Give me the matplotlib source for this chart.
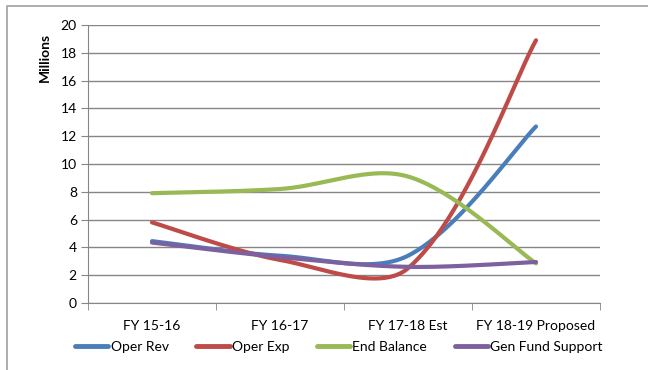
import matplotlib.pyplot as plt
import numpy as np
from matplotlib.lines import Line2D

plt.rcParams['font.family'] = ['Lato', 'DejaVu Sans']

categories = ["FY 15-16", "FY 16-17", "FY 17-18 Est", "FY 18-19 Proposed"]
oper_rev = [4.45, 3.4, 3.4, 12.7]
oper_exp = [5.8, 3.1, 2.5, 18.9]
end_balance = [7.9, 8.2, 9.1, 2.85]
gen_fund = [4.35, 3.3, 2.6, 2.95]

series = [
    ("Oper Rev", oper_rev, "#4A7EBB"),
    ("Oper Exp", oper_exp, "#BE4B48"),
    ("End Balance", end_balance, "#98B954"),
    ("Gen Fund Support", gen_fund, "#7D60A0"),
]

# pixel size of one category step and one y unit, used to shape the curves
XS, YS = 128.0, 13.9


def smooth(xs, ys, n=50):
    # bezier smoothing, handle lengths weighted by neighbouring segment lengths
    pts = np.column_stack([np.asarray(xs, float) * XS, np.asarray(ys, float) * YS])
    m = len(pts)
    out = []
    for i in range(m - 1):
        p1, p2 = pts[i], pts[i + 1]
        d12 = np.hypot(*(p2 - p1))
        if i == 0:
            h1 = (p2 - p1) / 6.0
        else:
            p0 = pts[i - 1]
            d01 = np.hypot(*(p1 - p0))
            h1 = (p2 - p0) / 6.0 * 2 * d12 / (d01 + d12)
        if i + 2 >= m:
            h2 = (p2 - p1) / 6.0
        else:
            p3 = pts[i + 2]
            d23 = np.hypot(*(p3 - p2))
            h2 = (p3 - p1) / 6.0 * 2 * d12 / (d12 + d23)
        c1, c2 = p1 + h1, p2 - h2
        t = np.linspace(0, 1, n)[:, None]
        seg = ((1 - t) ** 3) * p1 + 3 * ((1 - t) ** 2) * t * c1 \
            + 3 * (1 - t) * t ** 2 * c2 + t ** 3 * p2
        out.append(seg if i == 0 else seg[1:])
    seg = np.vstack(out)
    return seg[:, 0] / XS, seg[:, 1] / YS


fig = plt.figure(figsize=(6.48, 3.70), dpi=100)
ax = fig.add_axes([88 / 648, 1 - 303 / 370, 512 / 648, 278 / 370])

x = np.arange(len(categories))
for name, vals, color in series:
    sx, sy = smooth(x, vals)
    ax.plot(sx, sy, color=color, lw=3.0, solid_capstyle='round', label=name)

ax.set_xlim(-0.5, len(categories) - 0.5)
ax.set_ylim(0, 20)
ax.set_yticks(range(0, 21, 2))
ax.set_xticks(x)
ax.set_xticklabels(categories)
ax.set_xticks(np.arange(-0.5, len(categories), 1.0), minor=True)
ax.tick_params(axis='x', which='major', length=0, pad=12, labelsize=10)
ax.tick_params(axis='x', which='minor', length=5, color='#868686')
ax.tick_params(axis='y', length=5, color='#868686', labelsize=10, pad=3)
ax.grid(axis='y', color='#868686', lw=1)
ax.set_axisbelow(True)
for side in ['top', 'right']:
    ax.spines[side].set_visible(False)
for side in ['left', 'bottom']:
    ax.spines[side].set_color('#868686')

fig.text(45 / 648, 1 - 57 / 370, "Millions", rotation=90, fontsize=10,
         fontweight='bold', ha='center', va='center')

handles = [Line2D([], [], color=c, lw=3.5, solid_capstyle='round')
           for _, _, c in series]
fig.legend(handles, [s[0] for s in series], loc='center',
           bbox_to_anchor=(339 / 648, 1 - 347 / 370), ncol=4, frameon=False,
           fontsize=10, handlelength=2.4, handletextpad=0.15, columnspacing=2.0)

# chart area border (top and left edges only)
fig.add_artist(Line2D([7 / 648, 7 / 648, 1.0], [0.0, 1 - 6 / 370, 1 - 6 / 370],
                      transform=fig.transFigure, color='#a0a0a0', lw=1.2))

fig.savefig("out.png", dpi=100)
